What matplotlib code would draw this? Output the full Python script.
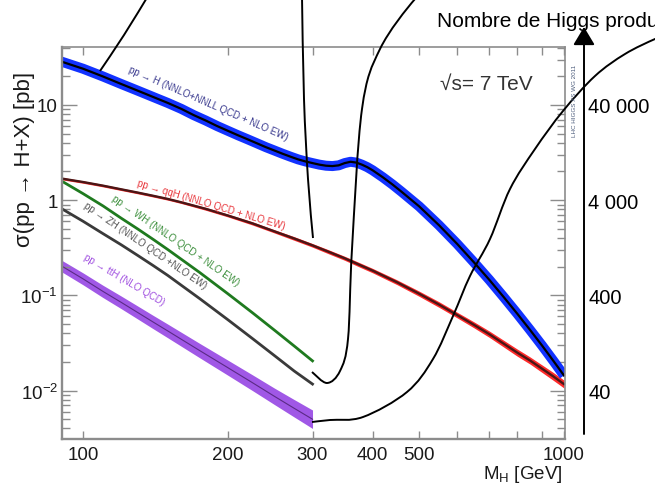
import numpy as np
import matplotlib
matplotlib.use("Agg")
import matplotlib.pyplot as plt
import matplotlib.transforms as mtransforms
from matplotlib.path import Path
from matplotlib.patches import PathPatch, FancyArrowPatch
from matplotlib.ticker import FixedLocator, FixedFormatter, LogLocator, NullFormatter, NullLocator

plt.rcParams['font.family'] = ['Liberation Sans', 'DejaVu Sans']
plt.rcParams['mathtext.fontset'] = 'custom'
plt.rcParams['mathtext.rm'] = 'Liberation Sans'
plt.rcParams['mathtext.it'] = 'Liberation Sans:italic'

W, H = 655, 485

# sections efficaces (pb), sqrt(s) = 7 TeV
mh_ggh = [90, 100, 110, 120, 130, 140, 150, 160, 170, 180, 190, 200, 210, 220, 230, 240, 250,
          260, 270, 280, 290, 300, 310, 320, 330, 340, 350, 360, 370, 380, 390, 400, 420, 440,
          460, 480, 500, 550, 600, 650, 700, 750, 800, 850, 900, 950, 1000]
xs_ggh = [28.6, 24.0, 19.9, 16.6, 14.1, 12.1, 10.5, 9.1, 7.8, 6.85, 6.0, 5.35, 4.8, 4.35, 3.95, 3.6, 3.32,
          3.07, 2.86, 2.68, 2.55, 2.45, 2.36, 2.3, 2.28, 2.32, 2.45, 2.53, 2.48, 2.36, 2.22, 2.06, 1.74, 1.46,
          1.22, 1.02, 0.86, 0.544, 0.346, 0.222, 0.145, 0.0955, 0.064, 0.0434, 0.0298, 0.0206, 0.0144]

mh_vbf = [90, 100, 110, 120, 130, 140, 150, 160, 180, 200, 225, 250, 275, 300, 325, 350, 375,
          400, 450, 500, 550, 600, 650, 700, 750, 800, 850, 900, 950, 1000]
xs_vbf = [1.69, 1.55, 1.42, 1.3, 1.2, 1.11, 1.03, 0.95, 0.81, 0.69, 0.57, 0.47, 0.395, 0.335, 0.285,
          0.245, 0.21, 0.182, 0.137, 0.104, 0.080, 0.062, 0.049, 0.039, 0.031, 0.025, 0.0207, 0.0170,
          0.0141, 0.0117]
err_vbf = [0.03, 0.03, 0.03, 0.03, 0.03, 0.03, 0.03, 0.03, 0.035, 0.035, 0.04, 0.04, 0.045, 0.045, 0.05,
           0.05, 0.055, 0.055, 0.06, 0.065, 0.07, 0.07, 0.075, 0.08, 0.085, 0.09, 0.09, 0.095, 0.10, 0.10]

mh_vh = [90, 100, 110, 120, 130, 140, 150, 175, 200, 225, 250, 275, 300]
xs_wh = [1.6, 1.17, 0.87, 0.647, 0.497, 0.386, 0.303, 0.173, 0.104, 0.0657, 0.0431, 0.0293, 0.0205]
xs_zh = [0.82, 0.6, 0.445, 0.34, 0.262, 0.205, 0.162, 0.092, 0.0555, 0.0352, 0.0233, 0.0160, 0.0117]
xs_tth = [0.205, 0.149, 0.110, 0.0845, 0.0659, 0.0523, 0.0423, 0.0262, 0.0174, 0.0121, 0.0087,
          0.0065, 0.0050]
err_tth = [0.15, 0.155, 0.16, 0.165, 0.17, 0.175, 0.18, 0.19, 0.20, 0.21, 0.22, 0.235, 0.25]

y_ticks = [0.01, 0.1, 1, 10]
y_labels = ['$10^{-2}$', '$10^{-1}$', '1', '10']
x_ticks = [100, 200, 300, 400, 500, 600, 700, 800, 900, 1000]
x_labels = ['100', '200', '300', '400', '500', '', '', '', '', '1000']
lumi = 4000  # pb-1
n_ticks = [40, 400, 4000, 40000]
n_labels = ['40', '400', '4 000', '40 000']


def spline_path(pts):
    pts = np.asarray(pts, float)
    p = np.vstack([pts[0], pts, pts[-1]])
    verts = [pts[0]]
    codes = [Path.MOVETO]
    for i in range(1, len(p) - 2):
        c1 = p[i] + (p[i + 1] - p[i - 1]) / 6
        c2 = p[i + 1] - (p[i + 2] - p[i]) / 6
        verts += [c1, c2, p[i + 1]]
        codes += [Path.CURVE4] * 3
    return Path(verts, codes)


fig = plt.figure(figsize=(W / 100, H / 100), dpi=100)
ax = fig.add_axes([62 / W, 1 - 440 / H, 503 / W, 392 / H])
ax.set_xscale('log')
ax.set_yscale('log')
ax.set_xlim(90.4, 1005)
ax.set_ylim(0.0031, 40.6)

# ggH : bande bleue + ligne centrale
ax.plot(mh_ggh, xs_ggh, color='#1232ff', lw=7.2, solid_capstyle='butt')
ax.plot(mh_ggh, xs_ggh, color='black', lw=1.6)

# VBF
xs_vbf_a = np.array(xs_vbf)
e = np.array(err_vbf)
ax.fill_between(mh_vbf, xs_vbf_a / (1 + e), xs_vbf_a * (1 + e), color='#ff2a2a', lw=0)
ax.plot(mh_vbf, xs_vbf, color='#4a1616', lw=1.7)

# WH, ZH
ax.plot(mh_vh, xs_wh, color='#1f7a1f', lw=2.0)
ax.plot(mh_vh, xs_zh, color='#3a3a3a', lw=2.0)

# ttH
xs_tth_a = np.array(xs_tth)
e = np.array(err_tth)
ax.fill_between(mh_vh, xs_tth_a / (1 + e), xs_tth_a * (1 + e), color='#a058e6', lw=0)
ax.plot(mh_vh, xs_tth, color='#5a2a85', lw=0.8)

# étiquettes des courbes
kw = dict(fontsize=7, rotation_mode='anchor', ha='left', va='bottom')
ax.text(123.5, 21.5, 'pp → H (NNLO+NNLL QCD + NLO EW)', color='#3b3b8f', rotation=-23.4, **kw)
ax.text(129, 1.36, 'pp → qqH (NNLO QCD + NLO EW)', color='#e8383d', rotation=-16.5, **kw)
ax.text(114, 0.97, 'pp → WH (NNLO QCD + NLO EW)', color='#3d8f3d', rotation=-34.5, **kw)
ax.text(99.5, 0.82, 'pp → ZH (NNLO QCD +NLO EW)', color='#555555', rotation=-34.2, **kw)
ax.text(99.5, 0.235, 'pp → ttH (NLO QCD)', color='#a050e0', rotation=-30.5, **kw)

ax.text(0.752, 0.908, '√s= 7 TeV', transform=ax.transAxes, fontsize=15, color='#333333',
        ha='left', va='center')

# axes
for s in ax.spines.values():
    s.set_color('#8c8c8c')
    s.set_linewidth(1.2)
ax.spines['left'].set_linewidth(1.7)
ax.spines['bottom'].set_linewidth(1.7)

ax.xaxis.set_major_locator(FixedLocator(x_ticks))
ax.xaxis.set_major_formatter(FixedFormatter(x_labels))
ax.xaxis.set_minor_locator(NullLocator())
ax.yaxis.set_major_locator(FixedLocator(y_ticks))
ax.yaxis.set_major_formatter(FixedFormatter(y_labels))
ax.yaxis.set_minor_locator(LogLocator(base=10, subs=np.arange(2, 10)))
ax.yaxis.set_minor_formatter(NullFormatter())
ax.tick_params(axis='x', which='major', direction='in', top=True, length=5.5, width=1,
               color='#8c8c8c', labelsize=13.5, labelcolor='#1a1a1a', pad=5)
ax.tick_params(axis='y', which='major', direction='in', right=True, length=11, width=1,
               color='#8c8c8c', labelsize=13.5, labelcolor='#1a1a1a', pad=3)
ax.tick_params(axis='y', which='minor', direction='in', right=True, length=5.5, width=1,
               color='#8c8c8c')

ax.set_xlabel('$\\mathregular{M_H}$ [GeV]', fontsize=13.5, loc='right', color='#1a1a1a')
ax.xaxis.set_label_coords(0.996, -0.088)
ax.xaxis.label.set_va('center')
ax.set_ylabel('σ(pp → H+X) [pb]', fontsize=16, loc='top', color='#1a1a1a')
ax.yaxis.set_label_coords(-0.0755, 0.939)
ax.yaxis.label.set_va('center')

# axe des nombres de Higgs produits
sec = ax.secondary_yaxis(1.038, functions=(lambda s: s * lumi, lambda n: n / lumi))
sec.yaxis.set_major_locator(FixedLocator(n_ticks))
sec.yaxis.set_major_formatter(FixedFormatter(n_labels))
sec.yaxis.set_minor_locator(NullLocator())
sec.spines['right'].set_visible(False)
sec.tick_params(axis='y', length=0, pad=3, labelsize=14.5, labelcolor='black')

px = mtransforms.Affine2D().scale(1 / W, -1 / H).translate(0, 1) + fig.transFigure
arrow = FancyArrowPatch((584, 435), (584, 28), transform=px,
                        arrowstyle='-|>,head_length=0.55,head_width=0.33',
                        mutation_scale=20, lw=1.4, color='black', shrinkA=0, shrinkB=0)
fig.add_artist(arrow)
fig.text(437 / W, 1 - 27 / H, 'Nombre de Higgs produits', fontsize=15, ha='left',
         va='baseline', color='black')

fig.text(574 / W, 1 - 101 / H, 'LHC HIGGS XS WG 2011', rotation=90, fontsize=4.5,
         color='#4a5a7a', ha='center', va='center')

# traits dessinés à la main
strokes = [
    [(148, -3), (124, 36), (100, 72)],
    [(302, -3), (304, 100), (308, 180), (313, 239)],
    [(312, 373), (327, 384), (340, 372), (348, 340), (352, 250), (362, 110), (380, 50),
     (415, 0), (430, -8)],
    [(312, 423), (330, 421), (363, 418), (407, 393), (433, 360), (453, 317), (470, 277),
     (490, 240), (510, 190), (535, 150), (563, 112), (595, 77), (625, 55), (655, 40), (670, 35)],
]
for pts in strokes:
    fig.add_artist(PathPatch(spline_path(pts), transform=px, fill=False, lw=1.4,
                             edgecolor='black', clip_on=False))

fig.savefig('out.png', dpi=100)
